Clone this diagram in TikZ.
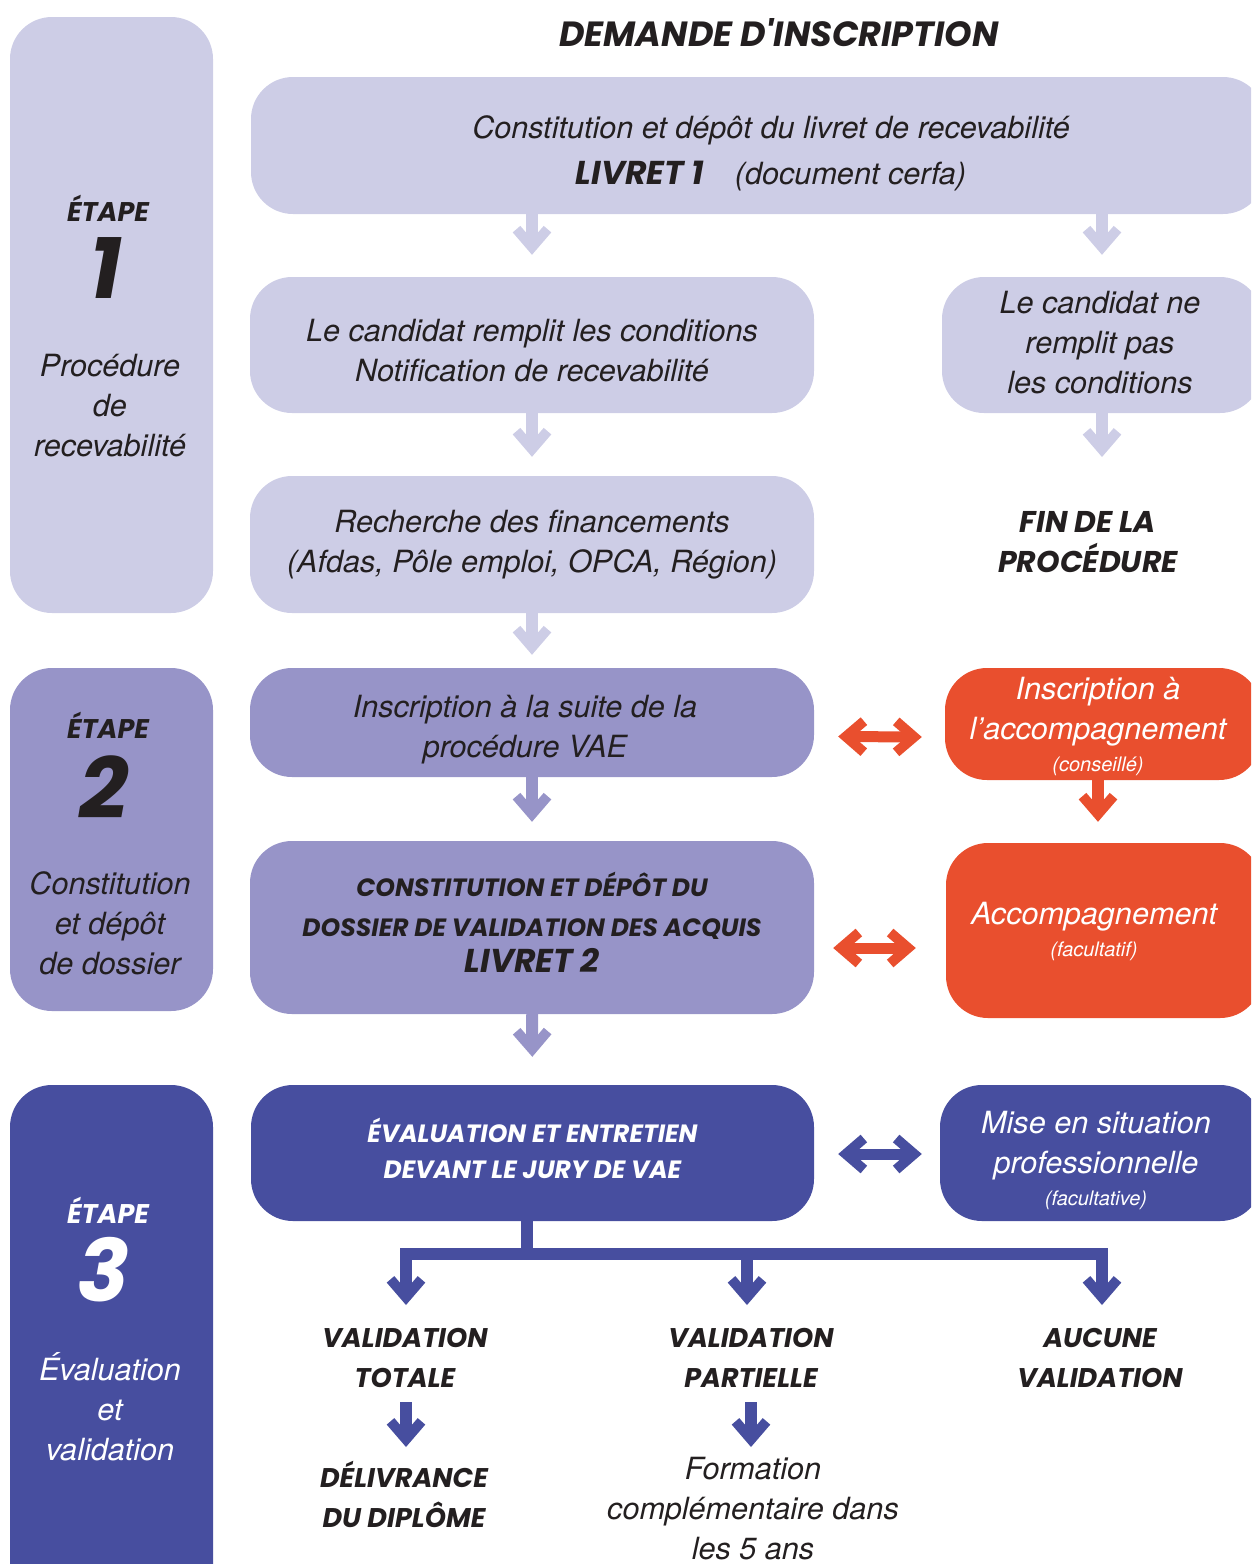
\documentclass[tikz,border=0pt]{standalone}
\usepackage{fontspec}
\setmainfont{TeX Gyre Heros}
\newfontfamily\hd{Poppins}
\usetikzlibrary{arrows.meta,calc}
\definecolor{lavA}{RGB}{205,205,230}
\definecolor{lavB}{RGB}{151,148,200}
\definecolor{navy}{RGB}{71,78,159}
\definecolor{orng}{RGB}{233,79,46}
\definecolor{ink}{RGB}{35,31,32}
\newcommand\bodyf{\fontsize{30.6}{40}\selectfont\itshape}
\newcommand\smallf{\fontsize{20}{24}\selectfont\itshape}
\newcommand\hdf[2]{\hd\fontsize{#1}{#2}\selectfont\bfseries\itshape}
\tikzset{
  chevtip/.tip={Straight Barb[sharp,length=18pt,width=31pt,line width=10pt]},
  panel/.style={rounded corners=42pt, inner sep=0pt},
  lightarr/.style={draw=lavA, line width=12pt, -chevtip},
  medarr/.style={draw=lavB, line width=12pt, -chevtip},
  navyarr/.style={draw=navy, line width=12pt, line join=miter, -chevtip},
  orngarr/.style={draw=orng, line width=12pt, -chevtip},
  dblorng/.style={draw=orng, line width=11pt, chevtip-chevtip},
  dblnavy/.style={draw=navy, line width=11pt, chevtip-chevtip},
  lbl/.style={align=center, text=ink, inner sep=0pt, font=\bodyf},
}
\begin{document}
\begin{tikzpicture}[x=1pt,y=-1pt]
\useasboundingbox (0,0) rectangle (1251,1564);
\clip (0,0) rectangle (1251,1564);

% stage panels
\node[panel, fill=lavA, minimum width=203pt, minimum height=596pt] (st1) at (111.5,315) {};
\node[panel, fill=lavB, minimum width=203pt, minimum height=343pt] (st2) at (111.5,839.5) {};
\node[panel, fill=navy, minimum width=203pt, minimum height=530pt] (st3) at (111.5,1350) {};

\node[lbl, font={\hdf{27}{32}}] (e1) at (108,208) {ÉTAPE};
\node[lbl, font={\hdf{86}{90}}] (n1) at (106,268) {1};
\node[lbl] (d1) at (110,406) {Procédure\\de\\recevabilité};

\node[lbl, font={\hdf{27}{32}}] (e2) at (108,725) {ÉTAPE};
\node[lbl, font={\hdf{86}{90}}] (n2) at (104,787) {2};
\node[lbl] (d2) at (110,923) {Constitution\\et dépôt\\de dossier};

\node[lbl, font={\hdf{27}{32}}, text=white] (e3) at (108,1210) {ÉTAPE};
\node[lbl, font={\hdf{86}{90}}, text=white] (n3) at (104,1270) {3};
\node[lbl, text=white] (d3) at (110,1407) {Évaluation\\et\\validation};

% title
\node[lbl, font={\hdf{35}{40}}] (title) at (779,33) {DEMANDE D'INSCRIPTION};

% stage 1 boxes
\node[panel, fill=lavA, minimum width=1014pt, minimum height=137pt] (A) at (758,145.5) {};
\node[lbl] (Atx) at (771,153.5)
  {Constitution et dépôt du livret de recevabilité\\[6pt]
   {\hdf{33}{36}LIVRET 1}\quad(document cerfa)};
\node[panel, fill=lavA, minimum width=564pt, minimum height=136pt] (B) at (532,345) {};
\node[lbl] (Btx) at (532,351) {Le candidat remplit les conditions\\Notification de recevabilité};
\node[panel, fill=lavA, minimum width=320pt, minimum height=136pt] (C) at (1102,345) {};
\node[lbl] (Ctx) at (1100,343) {Le candidat ne\\remplit pas\\les conditions};
\node[panel, fill=lavA, minimum width=564pt, minimum height=137pt] (D) at (532,544.5) {};
\node[lbl] (Dtx) at (532,544.5) {Recherche des financements\\(Afdas, Pôle emploi, OPCA, Région)};
\node[lbl, font={\hdf{30}{40}}] (fin) at (1088,542) {FIN DE LA\\PROCÉDURE};

% stage 2 boxes
\node[panel, fill=lavB, minimum width=564pt, minimum height=109pt] (E) at (532,722.5) {};
\node[lbl] (Etx) at (525,730) {Inscription à la suite de la\\procédure VAE};
\node[panel, fill=lavB, minimum width=564pt, minimum height=173pt] (F) at (532,927.5) {};
\node[lbl, font={\hdf{25}{40}}] (Ftx) at (532,922.5)
  {CONSTITUTION ET DÉPÔT DU\\DOSSIER DE VALIDATION DES ACQUIS\\[-4pt]
   \hdf{33}{36}LIVRET 2};
\node[panel, fill=orng, minimum width=316pt, minimum height=112pt] (G) at (1103,724) {};
\node[lbl, text=white] (Gtx) at (1098,726)
  {Inscription à\\l'accompagnement\\[-8pt]\smallf (conseillé)};
\node[panel, fill=orng, minimum width=316pt, minimum height=175pt] (H) at (1104,930.5) {};
\node[lbl, text=white] (Htx) at (1094,931) {Accompagnement\\[-8pt]\smallf (facultatif)};

% stage 3 boxes
\node[panel, fill=navy, minimum width=563pt, minimum height=136pt] (I) at (532.5,1153) {};
\node[lbl, text=white, font={\hdf{25}{36}}] (Itx) at (532.5,1148)
  {ÉVALUATION ET ENTRETIEN\\DEVANT LE JURY DE VAE};
\node[panel, fill=navy, minimum width=322pt, minimum height=136pt] (J) at (1101,1153) {};
\node[lbl, text=white] (Jtx) at (1096,1160)
  {Mise en situation\\professionnelle\\[-8pt]\smallf (facultative)};

\node[lbl, font={\hdf{27}{40}}] (vt) at (405,1358) {VALIDATION\\TOTALE};
\node[lbl, font={\hdf{27}{40}}] (vp) at (751,1358) {VALIDATION\\PARTIELLE};
\node[lbl, font={\hdf{27}{40}}] (av) at (1100,1358) {AUCUNE\\VALIDATION};
\node[lbl, font={\hdf{27}{40}}] (dd) at (404,1494) {DÉLIVRANCE\\DU DIPLÔME};
\node[lbl] (fc) at (753,1509) {Formation\\complémentaire dans\\les 5 ans};

% connectors stage 1
\draw[lightarr, shorten >=22pt] (B |- A.south) -- (B.north);
\draw[lightarr, shorten >=22pt] (C |- A.south) -- (C.north);
\draw[lightarr, shorten >=19pt] (B.south) -- (D.north);
\coordinate (cend) at (1102,457);
\draw[lightarr] (C.south) -- (cend);
\draw[lightarr, shorten >=13pt] (D.south) -- (E.north);

% stage 2
\draw[medarr, shorten >=19pt] (E.south) -- (F.north);
\draw[medarr, shorten >=28pt] (F.south) -- (I.north);
\draw[orngarr, shorten >=21pt] ($(G.south)+(-5,0)$) -- ($(H.north)+(-6,0)$);
\draw[dblorng] ($(E.east)+(24,14)$) -- ($(G.west)+(-23,13)$);
\draw[dblorng] ($(F.east)+(19,20.5)$) -- ($(H.west)+(-30,17.5)$);

% stage 3
\draw[dblnavy] ($(I.east)+(24,1)$) -- ($(J.west)+(-18,1)$);
\coordinate (br) at (527,1254);
\coordinate (t1) at (406,1305);
\coordinate (t2) at (747,1305);
\coordinate (t3) at (1102,1305);
\draw[navyarr, -] ($(I.south)+(-5.5,0)$) -- (br);
\draw[navyarr] (br) -| (t1);
\draw[navyarr] (br) -| (t2);
\draw[navyarr] (br) -| (t3);
\coordinate (s1) at (406,1402);
\coordinate (u1) at (406,1447);
\coordinate (s2) at (751,1402);
\coordinate (u2) at (751,1447);
\draw[navyarr] (s1) -- (u1);
\draw[navyarr] (s2) -- (u2);
\end{tikzpicture}
\end{document}
